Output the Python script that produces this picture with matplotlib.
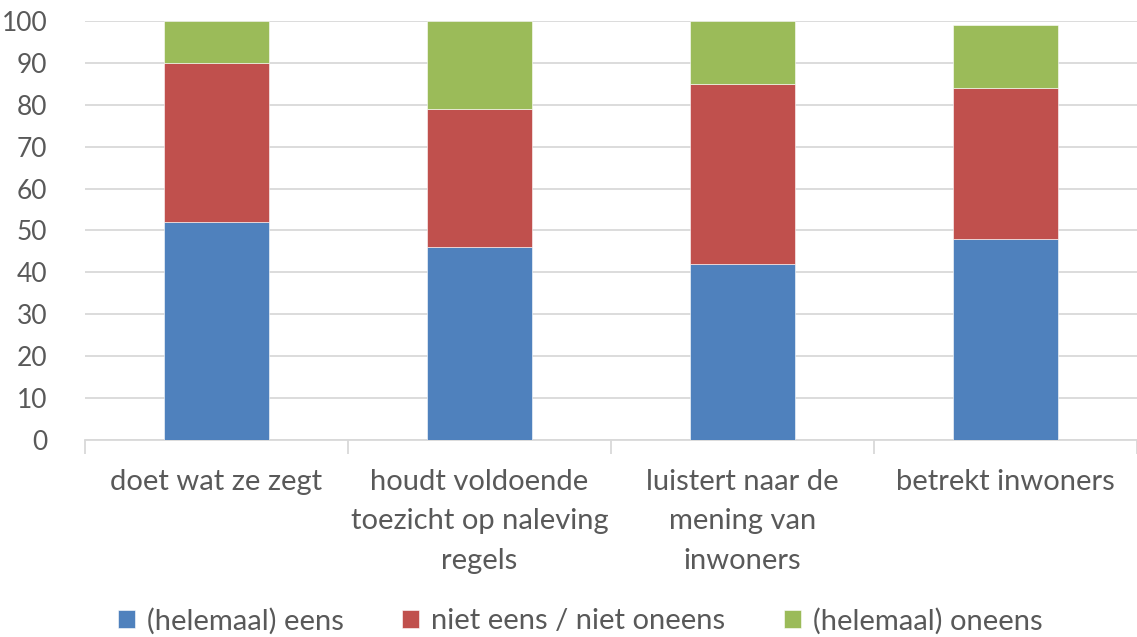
import matplotlib
matplotlib.use("Agg")
import matplotlib.pyplot as plt
import numpy as np

categories = ["doet wat ze zegt", "houdt voldoende\ntoezicht op naleving\nregels",
              "luistert naar de\nmening van\ninwoners", "betrekt inwoners"]
series_names = ["(helemaal) eens", "niet eens / niet oneens", "(helemaal) oneens"]
eens = [52, 46, 42, 48]
neutraal = [38, 33, 43, 36]
oneens = [10, 21, 15, 15]
colors = ["#4F81BD", "#C0504D", "#9BBB59"]
yticks = [0, 10, 20, 30, 40, 50, 60, 70, 80, 90, 100]

plt.rcParams['font.family'] = ['Lato', 'DejaVu Sans']
text_color = "#595959"

fig = plt.figure(figsize=(11.37, 6.37), dpi=100)
ax = fig.add_axes([85/1137, 1-440/637, 1-85/1137, (440-21)/637])

x = np.arange(len(categories))
bottom = np.zeros(len(categories))
handles = []
for name, vals, c in zip(series_names, [eens, neutraal, oneens], colors):
    b = ax.bar(x, vals, width=0.4, bottom=bottom, color=c, label=name,
               edgecolor="white", linewidth=0.4, zorder=3)
    handles.append(b)
    bottom += np.array(vals)

ax.set_ylim(0, 100)
ax.set_xlim(-0.5, len(categories) - 0.5)
ax.set_yticks(yticks)
ax.yaxis.grid(True, color="#D9D9D9", linewidth=1.3, zorder=0)
ax.set_axisbelow(True)
for s in ["top", "right", "left"]:
    ax.spines[s].set_visible(False)
ax.spines["bottom"].set_color("#D9D9D9")
ax.spines["bottom"].set_linewidth(1.3)

ax.tick_params(axis="y", length=0, labelsize=19, labelcolor=text_color, pad=27)
ax.set_xticks(np.arange(-0.5, len(categories) + 0.5, 1.0), minor=False)
ax.set_xticklabels([])
ax.tick_params(axis="x", which="major", length=10, width=1.3, color="#D9D9D9")
ax.set_xticks(x, minor=True)
ax.set_xticklabels(categories, minor=True, fontsize=21, color=text_color, linespacing=1.63)
ax.tick_params(axis="x", which="minor", length=0, pad=21)
for lbl in ax.get_yticklabels():
    lbl.set_horizontalalignment("right")

leg = fig.legend(handles=handles, labels=series_names, loc="center",
                 bbox_to_anchor=(580/1137, 1-621/637), ncol=3, frameon=False,
                 fontsize=21, handlelength=0.6, handleheight=0.6,
                 handletextpad=0.4, columnspacing=2.0)
for t in leg.get_texts():
    t.set_color(text_color)

fig.savefig("out.png", dpi=100)
